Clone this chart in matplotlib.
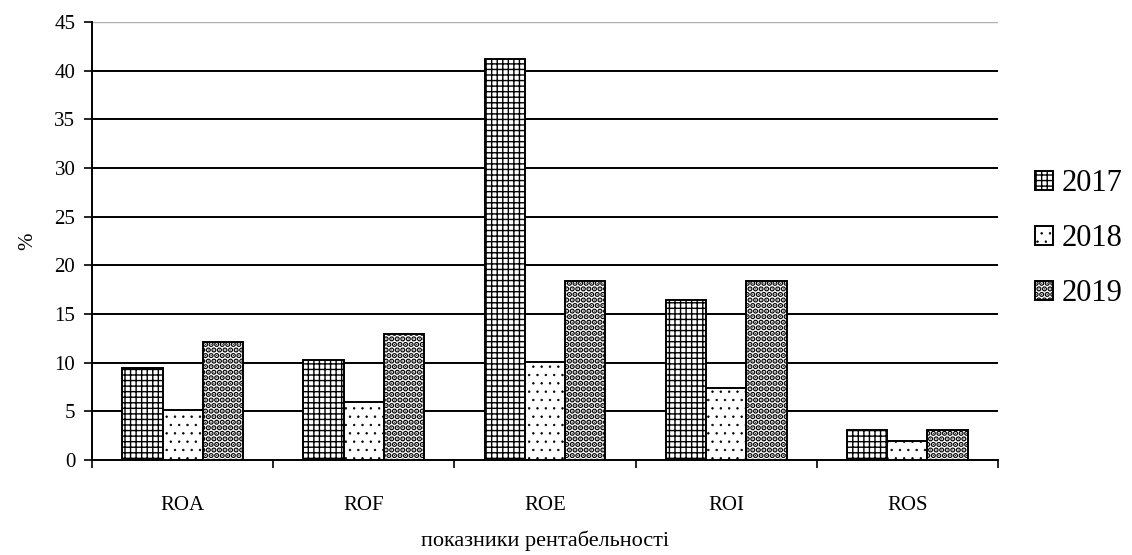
import numpy as np
import matplotlib
matplotlib.use('Agg')
import matplotlib.pyplot as plt

plt.rcParams['font.family'] = ['Liberation Serif', 'DejaVu Serif']
plt.rcParams['hatch.linewidth'] = 1.0

# data
categories = ['ROA', 'ROF', 'ROE', 'ROI', 'ROS']
years = ['2017', '2018', '2019']
v2017 = [9.45, 10.3, 41.2, 16.4, 3.1]
v2018 = [5.1, 6.0, 10.1, 7.4, 1.9]
v2019 = [12.1, 12.95, 18.4, 18.4, 3.1]
yticks = [0, 5, 10, 15, 20, 25, 30, 35, 40, 45]

fig = plt.figure(figsize=(11.32, 5.55), dpi=100)
ax = fig.add_axes([0.0813, 0.1712, 0.8003, 0.7892])

x = np.arange(len(categories))
w = 0.222
hatches = ['+++', '..', '...']
hatch_lw = [1.0, 0.5, 2.8]
series = [v2017, v2018, v2019]
for i, (vals, h, yr) in enumerate(zip(series, hatches, years)):
    bars = ax.bar(x + (i - 1) * w, vals, w, color='white', edgecolor='black',
                  hatch=h, linewidth=1.4, label=yr, zorder=3)
    for b in bars:
        if hasattr(b, 'set_hatch_linewidth'):
            b.set_hatch_linewidth(hatch_lw[i])

ax.set_xlim(-0.5, len(categories) - 0.5)
ax.set_ylim(0, 45)
ax.set_yticks(yticks)
ax.tick_params(axis='y', labelsize=15, length=6, width=1.2, direction='out', pad=6)
for yv in yticks[1:-1]:
    ax.axhline(yv, color='black', linewidth=1.4, zorder=1)
ax.axhline(45, color='#b0b0b0', linewidth=1, zorder=1)

# category labels centered, ticks at boundaries
ax.set_xticks(x)
ax.set_xticklabels(categories, fontsize=15)
ax.tick_params(axis='x', length=0, pad=26)
ax.set_xticks(np.arange(-0.5, len(categories)), minor=True)
ax.tick_params(axis='x', which='minor', length=6, width=1.2, direction='out')

for s in ['top', 'right']:
    ax.spines[s].set_visible(False)
ax.spines['left'].set_linewidth(1.4)
ax.spines['bottom'].set_linewidth(1.4)

ax.set_ylabel('%', fontsize=15, labelpad=12)
ax.set_xlabel('показники рентабельності', fontsize=16, labelpad=11)

leg = ax.legend(loc='center left', bbox_to_anchor=(1.01, 0.505), frameon=False,
                fontsize=22, handlelength=0.6, handleheight=0.6,
                handletextpad=0.3, labelspacing=0.85)
for i, p in enumerate(leg.get_patches()):
    if hasattr(p, 'set_hatch_linewidth'):
        p.set_hatch_linewidth(hatch_lw[i])

fig.savefig('out.png', dpi=100)
